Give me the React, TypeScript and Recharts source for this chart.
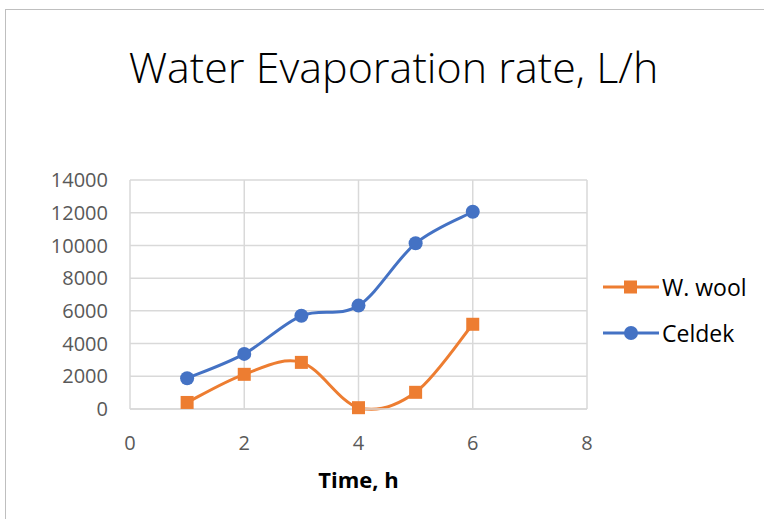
import React from 'react';
import { LineChart, Line, XAxis, YAxis, CartesianGrid } from 'recharts';

const hours = [1, 2, 3, 4, 5, 6];
const woolValues = [400, 2120, 2850, 80, 1020, 5180];
const celdekValues = [1880, 3370, 5700, 6320, 10130, 12060];
const xTicks = [0, 2, 4, 6, 8];
const yTicks = [0, 2000, 4000, 6000, 8000, 10000, 12000, 14000];

const ORANGE = '#ED7D31';
const BLUE = '#4472C4';
const FONT = '"Open Sans", sans-serif';

const rows = hours.map((h, i) => ({ x: h, wool: woolValues[i], celdek: celdekValues[i] }));

// Excel style smoothed line (catmull-rom like bezier segments)
const excelSmooth = (context: any) => {
  let pts: number[][] = [];
  return {
    areaStart() {},
    areaEnd() {},
    lineStart() {
      pts = [];
    },
    point(x: number, y: number) {
      pts.push([+x, +y]);
    },
    lineEnd() {
      if (!pts.length) return;
      context.moveTo(pts[0][0], pts[0][1]);
      for (let i = 0; i < pts.length - 1; i++) {
        const p0 = pts[Math.max(i - 1, 0)];
        const p1 = pts[i];
        const p2 = pts[i + 1];
        const p3 = pts[Math.min(i + 2, pts.length - 1)];
        context.bezierCurveTo(
          p1[0] + (p2[0] - p0[0]) / 6,
          p1[1] + (p2[1] - p0[1]) / 6,
          p2[0] - (p3[0] - p1[0]) / 6,
          p2[1] - (p3[1] - p1[1]) / 6,
          p2[0],
          p2[1]
        );
      }
    },
  };
};

const SquareDot = (props: any) => {
  const { cx, cy } = props;
  if (cx == null || cy == null) return null;
  return <rect x={cx - 6.5} y={cy - 6.5} width={13} height={13} fill={ORANGE} />;
};

const RoundDot = (props: any) => {
  const { cx, cy } = props;
  if (cx == null || cy == null) return null;
  return <circle cx={cx} cy={cy} r={7} fill={BLUE} />;
};

const legendItems = [
  { name: 'W. wool', color: ORANGE, shape: 'square' },
  { name: 'Celdek', color: BLUE, shape: 'circle' },
];

const LegendBox = () => (
  <div style={{ position: 'absolute', left: 603, top: 264 }}>
    {legendItems.map((it) => (
      <div key={it.name} style={{ display: 'flex', alignItems: 'center', height: 46 }}>
        <svg width={58} height={16}>
          <line x1={0} y1={8} x2={56} y2={8} stroke={it.color} strokeWidth={3} />
          {it.shape === 'square' ? (
            <rect x={21} y={1.5} width={13} height={13} fill={it.color} />
          ) : (
            <circle cx={28} cy={8} r={7} fill={it.color} />
          )}
        </svg>
        <span style={{ fontFamily: FONT, fontSize: 23, color: '#000', marginLeft: 1 }}>{it.name}</span>
      </div>
    ))}
  </div>
);

export default function App() {
  return (
    <div style={{ position: 'absolute', left: 0, top: 0, width: 764, height: 519, background: '#fff', overflow: 'hidden' }}>
      <div
        style={{
          position: 'absolute',
          left: 5,
          top: 9,
          width: 800,
          height: 600,
          border: '1px solid #bfbfbf',
        }}
      />
      <div
        style={{
          position: 'absolute',
          left: 0,
          width: 787,
          top: 43,
          textAlign: 'center',
          fontFamily: FONT,
          fontSize: 43,
          fontWeight: 300,
          color: '#000',
          lineHeight: '48px',
          whiteSpace: 'nowrap',
        }}
      >
        Water Evaporation rate, L/h
      </div>
      <LineChart
        width={764}
        height={519}
        data={rows}
        margin={{ top: 180, right: 177, bottom: 20, left: 0 }}
        style={{ position: 'absolute', left: 0, top: 0 }}
      >
        <CartesianGrid stroke="#d9d9d9" strokeWidth={1.5} />
        <XAxis
          dataKey="x"
          type="number"
          domain={[0, 8]}
          ticks={xTicks}
          interval={0}
          axisLine={{ stroke: '#d9d9d9', strokeWidth: 1.5 }}
          tickLine={false}
          tickSize={0}
          tickMargin={27}
          height={90}
          tick={{ fill: '#595959', fontSize: 20, fontFamily: FONT }}
          label={{
            value: 'Time, h',
            position: 'insideBottom',
            offset: 11,
            fill: '#000',
            fontSize: 22,
            fontWeight: 700,
            fontFamily: FONT,
          }}
        />
        <YAxis
          type="number"
          domain={[0, 14000]}
          ticks={yTicks}
          interval={0}
          width={130}
          axisLine={false}
          tickLine={false}
          tickSize={0}
          tickMargin={22}
          tick={{ fill: '#595959', fontSize: 20, fontFamily: FONT }}
        />
        <Line
          dataKey="wool"
          name="W. wool"
          type={excelSmooth as any}
          stroke={ORANGE}
          strokeWidth={3}
          dot={<SquareDot />}
          activeDot={false}
          isAnimationActive={false}
        />
        <Line
          dataKey="celdek"
          name="Celdek"
          type={excelSmooth as any}
          stroke={BLUE}
          strokeWidth={3}
          dot={<RoundDot />}
          activeDot={false}
          isAnimationActive={false}
        />
      </LineChart>
      <LegendBox />
    </div>
  );
}
